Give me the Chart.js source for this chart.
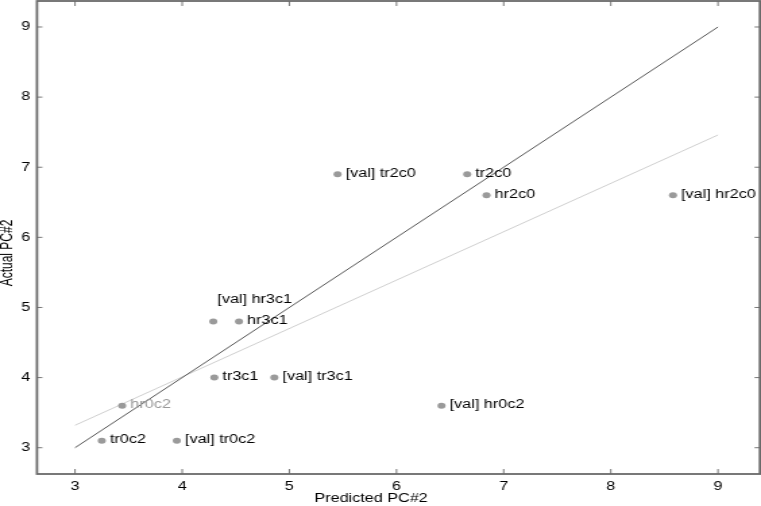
<!DOCTYPE html>
<html>
<head>
<meta charset="utf-8">
<script src="https://cdn.jsdelivr.net/npm/chart.js@4"></script>
<style>
  body { margin: 0; background: #fff; }
  #c { display: block; }
</style>
</head>
<body>
<!-- the reference is a horizontally stretched picture, so the canvas is drawn narrow and stretched -->
<canvas id="c" width="564" height="506" style="width:761px;height:506px"></canvas>
<script>
const names = ['tr0c2', '[val] tr0c2', 'hr0c2', 'tr3c1', '[val] tr3c1', 'hr3c1', '[val] hr3c1',
               '[val] tr2c0', 'tr2c0', 'hr2c0', '[val] hr2c0', '[val] hr0c2'];
const predicted = [3.25, 3.95, 3.44, 4.30, 4.86, 4.53, 4.29, 5.45, 6.66, 6.84, 8.58, 6.42];
const actual    = [3.1, 3.1, 3.6, 4.0, 4.0, 4.8, 4.8, 6.9, 6.9, 6.6, 6.6, 3.6];

const diagX = [3, 9];
const diagY = [3, 9];
const fitX = [3, 9];
const fitY = [3.32, 7.46];

const xTicks = [3, 4, 5, 6, 7, 8, 9];
const yTicks = [3, 4, 5, 6, 7, 8, 9];

Chart.defaults.font.family = '"Liberation Sans", Arial, sans-serif';
Chart.defaults.color = '#000';

// draws frame, inward ticks, point labels and axis titles
const frame = {
  id: 'frame',
  afterDatasetsDraw(chart) {
    const ctx = chart.ctx;
    const a = chart.chartArea;
    const x = chart.scales.x, y = chart.scales.y;
    // chart.js keeps a few px free at top/right, the frame goes to the edge
    const top = 1, right = chart.width - 0.8;
    ctx.save();
    ctx.strokeStyle = '#777';
    ctx.lineWidth = 1;
    ctx.beginPath();
    xTicks.forEach(v => {
      const px = x.getPixelForValue(v);
      ctx.moveTo(px, top); ctx.lineTo(px, top + 5);
      ctx.moveTo(px, a.bottom); ctx.lineTo(px, a.bottom - 5);
    });
    yTicks.forEach(v => {
      const py = y.getPixelForValue(v);
      ctx.moveTo(a.left, py); ctx.lineTo(a.left + 4, py);
      ctx.moveTo(right, py); ctx.lineTo(right - 4, py);
    });
    ctx.stroke();
    ctx.strokeStyle = '#6a6a6a';
    ctx.lineWidth = 1.8;
    ctx.strokeRect(a.left, top, right - a.left, a.bottom - top);

    // labels next to the points
    const meta = chart.getDatasetMeta(0);
    ctx.font = '12px "Liberation Sans", Arial, sans-serif';
    ctx.textAlign = 'left';
    ctx.textBaseline = 'middle';
    meta.data.forEach((pt, i) => {
      let dx = 6, dy = -1;
      if (names[i] == '[val] hr3c1') { dx = 3; dy = -22; }
      ctx.fillStyle = names[i] == 'hr0c2' ? '#999' : '#000';
      ctx.fillText(names[i], pt.x + dx, pt.y + dy);
    });

    // axis titles
    ctx.fillStyle = '#000';
    ctx.font = '12px "Liberation Sans", Arial, sans-serif';
    ctx.textAlign = 'center';
    ctx.fillText('Predicted PC#2', 275, 499);
    ctx.translate(6, 253);
    ctx.rotate(-Math.PI / 2);
    ctx.fillText('Actual PC#2', 0, 0);
    ctx.restore();
  }
};

const ctx = document.getElementById('c').getContext('2d');
const chart = new Chart(ctx, {
  type: 'scatter',
  data: {
    datasets: [
      {
        data: predicted.map((v, i) => ({x: v, y: actual[i]})),
        backgroundColor: '#9a9a9a',
        borderWidth: 0,
        pointRadius: 3
      },
      {
        data: diagX.map((v, i) => ({x: v, y: diagY[i]})),
        showLine: true,
        borderColor: '#555',
        borderWidth: 1,
        pointRadius: 0
      },
      {
        data: fitX.map((v, i) => ({x: v, y: fitY[i]})),
        showLine: true,
        borderColor: '#cfcfcf',
        borderWidth: 1,
        pointRadius: 0
      }
    ]
  },
  options: {
    responsive: false,
    animation: false,
    devicePixelRatio: 1,
    layout: { padding: { top: 1, right: 0, left: 0, bottom: 0 } },
    plugins: {
      legend: { display: false },
      tooltip: { enabled: false }
    },
    scales: {
      x: {
        type: 'linear',
        min: 2.645,
        max: 9.351,
        afterBuildTicks: s => { s.ticks = xTicks.map(v => ({value: v})); },
        afterFit: s => { s.height = 32; s.paddingLeft = 0; s.paddingRight = 0; },
        grid: { display: false, drawTicks: false },
        border: { display: false },
        ticks: { padding: 5, font: { size: 12 }, maxRotation: 0 }
      },
      y: {
        type: 'linear',
        min: 2.625,
        max: 9.328,
        afterBuildTicks: s => { s.ticks = yTicks.map(v => ({value: v})); },
        afterFit: s => { s.width = 27.4; s.paddingTop = 0; s.paddingBottom = 0; },
        grid: { display: false, drawTicks: false },
        border: { display: false },
        ticks: { padding: 5, font: { size: 12 } }
      }
    }
  },
  plugins: [frame]
});
</script>
</body>
</html>
